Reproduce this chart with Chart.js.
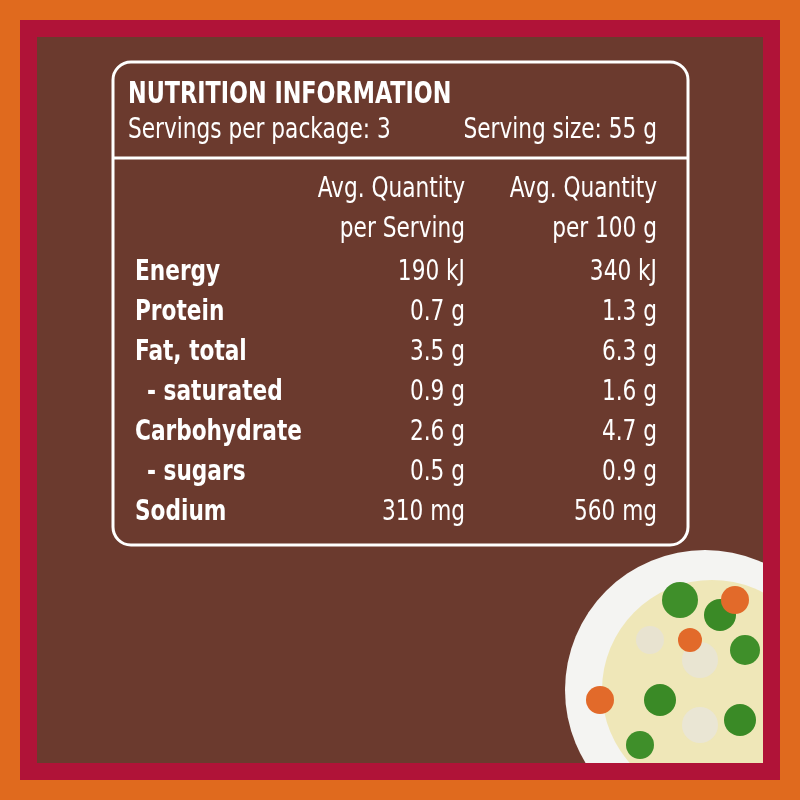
<!DOCTYPE html>
<html><head><meta charset="utf-8">
<script src="https://cdn.jsdelivr.net/npm/chart.js@4"></script>
<style>html,body{margin:0;padding:0;background:#E06A1E}#w{width:800px;height:800px}</style>
</head><body><div id="w"><canvas id="c" width="800" height="800"></canvas></div>
<script>
const nutrients = ['Energy','Protein','Fat, total','  - saturated','Carbohydrate','  - sugars','Sodium'];
const perServing = ['190 kJ','0.7 g','3.5 g','0.9 g','2.6 g','0.5 g','310 mg'];
const per100g = ['340 kJ','1.3 g','6.3 g','1.6 g','4.7 g','0.9 g','560 mg'];
const headers = [['Avg. Quantity','per Serving'],['Avg. Quantity','per 100 g']];
const title = 'NUTRITION INFORMATION';
const subtitle = ['Servings per package: 3','Serving size: 55 g'];
const columnPos = [330, 522];
const F = '"DejaVu Sans Condensed","Liberation Sans Narrow",sans-serif';

function rr(ctx,x,y,w,h,r){ctx.beginPath();ctx.moveTo(x+r,y);ctx.arcTo(x+w,y,x+w,y+h,r);ctx.arcTo(x+w,y+h,x,y+h,r);ctx.arcTo(x,y+h,x,y,r);ctx.arcTo(x,y,x+w,y,r);ctx.closePath();}
function t(c,s,x,y,sx){c.save();c.translate(x,y);c.scale(sx,1);c.fillText(s,0,0);c.restore();}

const bg = {id:'bg',beforeDraw(ch){const c=ch.ctx;c.save();
 c.fillStyle='#E06A1E';c.fillRect(0,0,800,800);
 c.fillStyle='#B01338';c.fillRect(20,20,760,760);
 c.fillStyle='#6B3A2E';c.fillRect(37,37,726,726);
 c.save();c.beginPath();c.rect(37,37,726,726);c.clip();
 c.fillStyle='#f4f4f2';c.beginPath();c.arc(705,690,140,0,Math.PI*2);c.fill();
 c.fillStyle='#efe7b8';c.beginPath();c.arc(712,690,110,0,Math.PI*2);c.fill();
 const blobs=[[680,600,18,'#3f8f2a'],[720,615,16,'#3a8a26'],[650,640,14,'#e8e3d0'],[700,660,18,'#e9e5d2'],[745,650,15,'#3f8f2a'],[660,700,16,'#3a8a26'],[735,600,14,'#e26a2a'],[600,700,14,'#e26a2a'],[700,725,18,'#eae6d4'],[740,720,16,'#3a8a26'],[640,745,14,'#3f8f2a'],[690,640,12,'#e26a2a']];
 blobs.forEach(b=>{c.fillStyle=b[3];c.beginPath();c.arc(b[0],b[1],b[2],0,Math.PI*2);c.fill();});
 c.restore();
 c.strokeStyle='#fff';c.lineWidth=3;rr(c,113,62,575,483,18);c.stroke();
 c.beginPath();c.moveTo(113,158);c.lineTo(688,158);c.stroke();
 c.restore();}};

const txt = {id:'txt',afterDraw(ch){const c=ch.ctx,y=ch.scales.y,x=ch.scales.x;c.save();c.fillStyle='#fff';c.textBaseline='middle';
 c.font='bold 31px '+F;c.textAlign='left';t(c,title,128,95,0.8);
 c.font='28px '+F;t(c,subtitle[0],128,131,0.86);c.textAlign='right';t(c,subtitle[1],657,131,0.86);
 const cols=columnPos.map(v=>x.getPixelForValue(v));
 headers.forEach((h,i)=>{t(c,h[0],cols[i],190,0.86);t(c,h[1],cols[i],230,0.86);});
 nutrients.forEach((n,i)=>{const py=y.getPixelForValue(i);const sub=n.startsWith(' ');
  c.textAlign='left';c.font='bold 28px '+F;t(c,sub?'- '+n.trim().slice(2):n,sub?147:135,py,0.86);
  c.textAlign='right';c.font='28px '+F;t(c,perServing[i],cols[0],py,0.86);t(c,per100g[i],cols[1],py,0.86);});
 c.restore();}};

new Chart(document.getElementById('c'),{type:'scatter',
 data:{datasets:[{data:nutrients.map((n,i)=>({x:0,y:i})),pointRadius:0}]},
 options:{responsive:false,animation:false,events:[],
  layout:{padding:{left:135,right:143,top:253,bottom:267}},
  plugins:{legend:{display:false},tooltip:{enabled:false}},
  scales:{x:{type:'linear',min:0,max:522,display:false},
   y:{type:'linear',min:-0.5,max:6.5,reverse:true,display:false}}},
 plugins:[bg,txt]});
</script></body></html>
